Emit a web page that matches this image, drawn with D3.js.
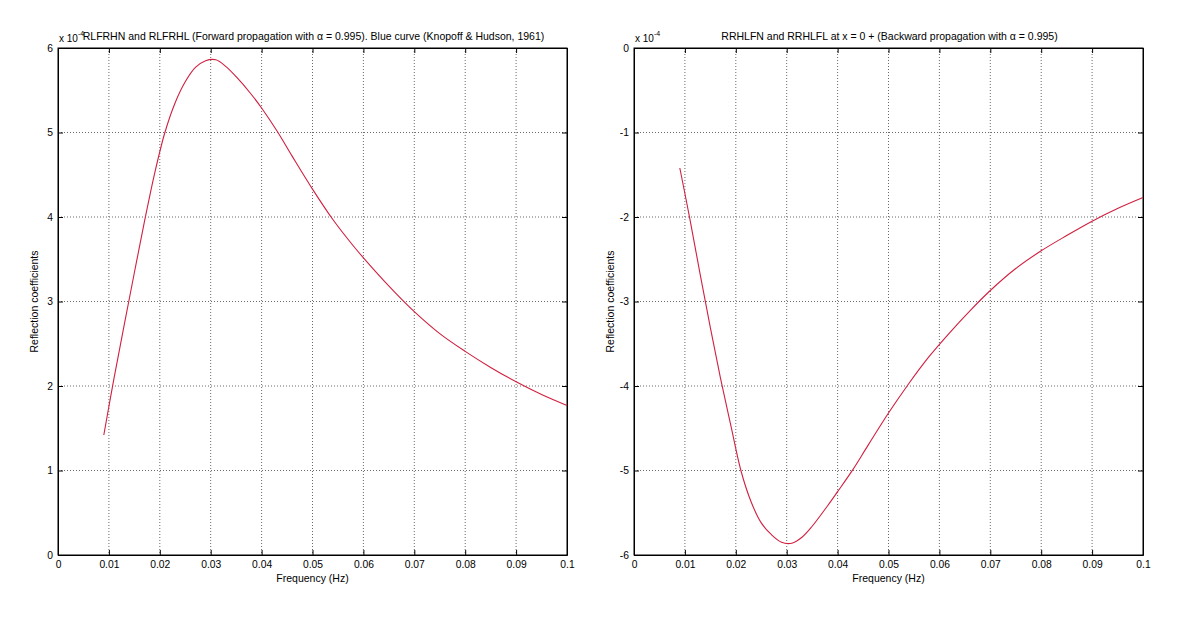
<!DOCTYPE html>
<html>
<head>
<meta charset="utf-8">
<script src="https://cdn.jsdelivr.net/npm/d3@7"></script>
<style>
    body { margin: 0; background: #fff; }
    text { font-family: "Liberation Sans", Arial, Helvetica, sans-serif; }
</style>
</head>
<body>
<div id="chart"></div>
<script>
var freq = [0.009, 0.011, 0.013, 0.015, 0.017, 0.019, 0.021, 0.023, 0.025, 0.027,
            0.029, 0.031, 0.033, 0.035, 0.038, 0.040, 0.043, 0.046, 0.050, 0.054,
            0.058, 0.062, 0.066, 0.070, 0.075, 0.080, 0.085, 0.090, 0.095, 0.100];

// forward propagation, x 1e-4
var forwardVals = [1.42, 2.09, 2.72, 3.34, 3.95, 4.52, 5.00, 5.35, 5.60, 5.77,
                   5.85, 5.86, 5.78, 5.66, 5.45, 5.29, 5.02, 4.72, 4.33, 3.97,
                   3.66, 3.38, 3.12, 2.88, 2.62, 2.41, 2.22, 2.05, 1.90, 1.77];

// backward propagation, x 1e-4
var backwardVals = [-1.42, -2.03, -2.68, -3.31, -3.91, -4.46, -5.00, -5.37, -5.62, -5.76,
                    -5.85, -5.86, -5.79, -5.66, -5.42, -5.25, -4.99, -4.70, -4.32, -3.97,
                    -3.65, -3.37, -3.11, -2.87, -2.61, -2.40, -2.22, -2.05, -1.90, -1.77];

var xTicks = [0, 0.01, 0.02, 0.03, 0.04, 0.05, 0.06, 0.07, 0.08, 0.09, 0.1];
var xTickLabels = ["0", "0.01", "0.02", "0.03", "0.04", "0.05", "0.06", "0.07", "0.08", "0.09", "0.1"];
var yTicksLeft = [0, 1, 2, 3, 4, 5, 6];
var yTicksRight = [0, -1, -2, -3, -4, -5, -6];

var titleLeft = "RLFRHN and RLFRHL (Forward propagation with \u03b1 = 0.995). Blue curve (Knopoff & Hudson, 1961)";
var titleRight = "RRHLFN and RRHLFL at x = 0 + (Backward propagation with \u03b1 = 0.995)";

var svg = d3.select("#chart").append("svg")
    .attr("width", 1200)
    .attr("height", 623);

function drawPanel(left, right, yDomain, yTicks, values, title) {
    var top = 48, bottom = 555;
    var x = d3.scaleLinear().domain([0, 0.1]).range([left, right]);
    var y = d3.scaleLinear().domain(yDomain).range([bottom, top]);
    var g = svg.append("g");

    //grid
    g.selectAll(".vgrid").data(xTicks.slice(1, -1)).enter()
        .append("line")
        .attr("x1", function (d) { return x(d); })
        .attr("x2", function (d) { return x(d); })
        .attr("y1", top).attr("y2", bottom)
        .style("stroke", "#444").style("stroke-width", 0.8)
        .style("stroke-dasharray", "1,2");
    g.selectAll(".hgrid").data(yTicks.slice(1, -1)).enter()
        .append("line")
        .attr("x1", left).attr("x2", right)
        .attr("y1", function (d) { return y(d); })
        .attr("y2", function (d) { return y(d); })
        .style("stroke", "#444").style("stroke-width", 0.8)
        .style("stroke-dasharray", "1,2");

    //axes with inward ticks on all sides
    var fmtX = function (d) { return xTickLabels[xTicks.indexOf(d)]; };
    var fmtY = function (d) { return String(d); }; // plain hyphen minus like matlab
    g.append("g").attr("transform", "translate(0," + bottom + ")")
        .call(d3.axisBottom(x).tickValues(xTicks).tickFormat(fmtX).tickSizeInner(-5).tickSizeOuter(0).tickPadding(6));
    g.append("g").attr("transform", "translate(0," + top + ")")
        .call(d3.axisTop(x).tickValues(xTicks).tickFormat("").tickSizeInner(-5).tickSizeOuter(0));
    g.append("g").attr("transform", "translate(" + left + ",0)")
        .call(d3.axisLeft(y).tickValues(yTicks).tickFormat(fmtY).tickSizeInner(-5).tickSizeOuter(0).tickPadding(5));
    g.append("g").attr("transform", "translate(" + right + ",0)")
        .call(d3.axisRight(y).tickValues(yTicks).tickFormat("").tickSizeInner(-5).tickSizeOuter(0));

    g.selectAll(".domain").style("stroke", "#000");
    g.selectAll(".tick line").style("stroke", "#000");
    g.selectAll(".tick text")
        .style("font-family", "'Liberation Sans', Arial, sans-serif")
        .style("font-size", "10.3px")
        .style("fill", "#000");

    //box
    g.append("rect")
        .attr("x", left).attr("y", top)
        .attr("width", right - left).attr("height", bottom - top)
        .style("fill", "none").style("stroke", "#000").style("stroke-width", 1);

    //curve
    var line = d3.line()
        .x(function (d, i) { return x(freq[i]); })
        .y(function (d) { return y(d); })
        .curve(d3.curveCatmullRom.alpha(0.5));
    g.append("path")
        .attr("d", line(values))
        .style("fill", "none")
        .style("stroke", "#d0203f")
        .style("stroke-width", 1.1);

    //labels
    g.append("text")
        .attr("x", (left + right) / 2 + 1).attr("y", 40)
        .attr("text-anchor", "middle")
        .style("font-size", "10.5px")
        .text(title);
    g.append("text")
        .attr("x", (left + right) / 2).attr("y", 582)
        .attr("text-anchor", "middle")
        .style("font-size", "10.5px")
        .text("Frequency (Hz)");
    g.append("text")
        .attr("transform", "translate(" + (left - 20) + "," + ((top + bottom) / 2) + ") rotate(-90)")
        .attr("text-anchor", "middle")
        .style("font-size", "10.5px")
        .text("Reflection coefficients");

    //exponent
    var ex = g.append("text")
        .attr("x", left + 1).attr("y", 42)
        .style("font-size", "10px");
    ex.append("tspan").text("x 10");
    ex.append("tspan").attr("dy", -6).style("font-size", "7px").text("-4");
}

drawPanel(58, 567, [0, 6], yTicksLeft, forwardVals, titleLeft);
drawPanel(634, 1143, [-6, 0], yTicksRight, backwardVals, titleRight);
</script>
</body>
</html>
